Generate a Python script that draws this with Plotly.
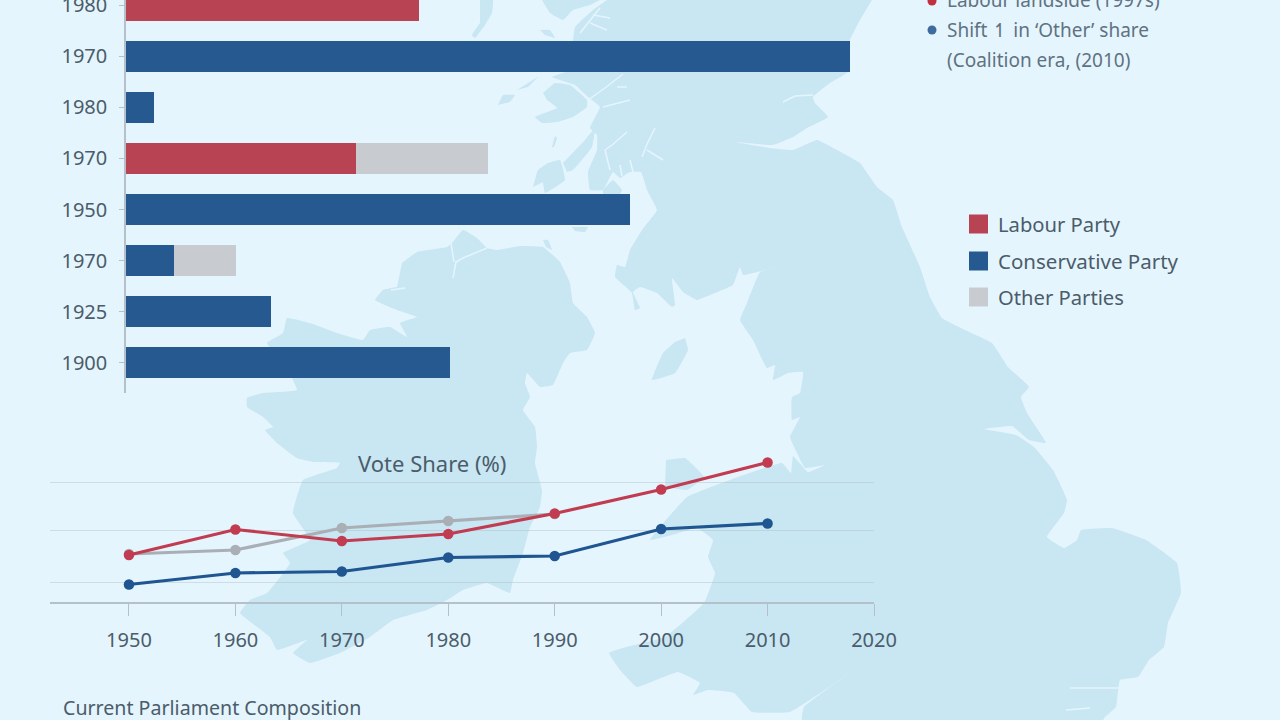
import plotly.graph_objects as go

# Bar panel: rows listed top to bottom, repeated year labels are kept as drawn
row_labels = ["1980", "1970", "1980", "1970", "1950", "1970", "1925", "1900"]
row_pos = [7, 6, 5, 4, 3, 2, 1, 0]
labour_bar = [29.3, 0, 0, 23.0, 0, 0, 0, 0]
conservative_bar = [0, 72.4, 2.8, 0, 50.4, 4.8, 14.5, 32.4]
other_bar = [0, 0, 0, 13.2, 0, 6.2, 0, 0]

# Vote share lines
years = [1950, 1960, 1970, 1980, 1990, 2000, 2010]
labour_share = [25.4, 30.5, 28.2, 29.6, 33.7, 38.5, 43.9]
conservative_share = [19.5, 21.8, 22.1, 24.9, 25.2, 30.6, 31.7]
other_share = [25.6, 26.4, 30.8, 32.2, 33.6]
other_years = [1950, 1960, 1970, 1980, 1990]
year_ticks = [1950, 1960, 1970, 1980, 1990, 2000, 2010, 2020]
grid_ticks = [20, 30.4, 40]

# Legend and notes
legend_names = ["Labour Party", "Conservative Party", "Other Parties"]
note_lines = ["Labour landside (1997s)", "Shift ↿ in ‘Other’ share", "(Coalition era, (2010)"]

RED = "#b84352"
BLUE = "#25598f"
GREY = "#c8ccd0"
LINE_RED = "#c13c50"
LINE_BLUE = "#1f5590"
LINE_GREY = "#a9afb5"
SEA = "#e5f5fd"
LAND = "#c9e6f3"
TEXT = "#4b5c6a"
AXIS = "#b4c1ca"
FONT = "Noto Sans"

# Backdrop landmasses, outlines in the page's pixel space
great_britain = [
    (872, 0), (860, 20), (850, 40), (848, 72), (830, 83), (813, 97), (815, 103), (828, 117),
    (807, 128), (793, 137), (773, 145), (735, 142), (770, 148), (793, 150), (817, 140), (837, 150),
    (860, 163), (877, 187), (893, 200), (902, 227), (920, 267), (930, 297), (942, 318), (965, 330),
    (992, 343), (1008, 367), (1029, 387), (1021, 397), (1027, 413), (1046, 443), (1029, 440),
    (1012, 426), (984, 429), (1016, 435), (1034, 447), (1053, 470), (1067, 500), (1064, 513),
    (1047, 537), (1064, 548), (1077, 540), (1081, 530), (1112, 528), (1146, 540), (1177, 563),
    (1181, 593), (1168, 623), (1164, 647), (1149, 660), (1138, 677), (1120, 680), (1116, 707),
    (1105, 717), (1103, 720), (802, 720), (804, 707), (851, 672), (825, 690), (790, 712), (752, 712),
    (734, 693), (708, 690), (693, 695), (700, 683), (678, 672), (656, 680), (637, 687), (620, 670),
    (609, 653), (626, 647), (665, 637), (704, 603), (715, 573), (708, 557), (713, 540), (697, 528),
    (672, 535), (650, 540), (687, 497), (730, 480), (782, 463), (791, 473), (793, 456), (808, 472),
    (825, 465), (805, 468), (797, 453), (790, 437), (800, 417), (792, 420), (792, 397), (800, 393),
    (803, 372), (788, 373), (773, 380), (775, 365), (767, 368), (753, 340), (740, 320), (747, 303),
    (760, 272), (778, 267), (765, 270), (743, 275), (740, 267), (733, 285), (710, 295), (697, 300),
    (683, 292), (672, 278), (675, 305), (672, 307), (657, 293), (640, 287), (633, 292), (640, 308),
    (635, 310), (632, 293), (627, 288), (615, 277), (617, 265), (625, 267), (630, 250), (642, 230),
    (657, 210), (647, 190), (641, 172), (630, 172), (620, 178), (613, 172), (603, 190), (590, 190),
    (588, 172), (597, 150), (597, 135), (590, 128), (600, 107), (588, 97), (575, 85), (552, 77),
    (570, 70), (573, 41), (575, 27), (593, 10), (607, 0),
]
ireland = [
    (402, 263), (417, 252), (447, 247), (452, 243), (463, 230), (477, 238), (487, 248), (497, 250),
    (520, 246), (543, 247), (560, 262), (570, 283), (573, 303), (587, 317), (595, 333), (587, 350),
    (570, 353), (563, 363), (553, 385), (540, 387), (527, 373), (525, 383), (530, 397), (523, 410),
    (535, 427), (537, 447), (535, 463), (542, 490), (540, 507), (530, 527), (523, 553), (513, 580),
    (510, 593), (487, 583), (463, 590), (447, 600), (427, 610), (393, 620), (370, 637), (340, 653),
    (310, 663), (293, 653), (307, 640), (277, 650), (270, 637), (240, 613), (250, 600), (267, 593),
    (290, 563), (283, 553), (310, 540), (293, 513), (303, 480), (337, 468), (340, 463), (313, 462),
    (297, 458), (277, 443), (265, 430), (273, 427), (263, 417), (247, 407), (247, 398), (263, 393),
    (297, 390), (285, 365), (267, 343), (283, 333), (287, 318), (310, 323), (337, 333), (363, 340),
    (370, 330), (390, 327), (407, 337), (400, 323), (417, 317), (397, 310), (375, 300), (383, 290),
    (397, 287),
]
islands = [
    [(685, 338), (688, 350), (675, 373), (652, 380), (663, 353), (675, 342)],
    [(666, 460), (685, 458), (704, 477), (687, 490), (665, 487)],
    [(533, 187), (538, 170), (548, 163), (560, 160), (565, 180), (545, 193), (543, 182)],
    [(563, 163), (585, 140), (595, 128), (592, 147), (573, 170), (567, 172)],
    [(552, 147), (555, 136), (557, 138), (554, 147)],
    [(543, 93), (555, 83), (570, 85), (587, 100), (587, 107), (573, 117), (557, 122), (542, 123),
     (535, 117), (557, 108), (547, 100)],
    [(498, 105), (503, 95), (515, 95), (510, 102)],
    [(517, 90), (538, 77), (528, 87)],
    [(540, 30), (550, 30), (555, 38), (545, 35)],
    [(480, 3), (480, 0), (493, 0), (492, 13), (485, 25), (475, 38), (472, 35), (480, 23)],
    [(542, 0), (550, 13), (563, 20), (573, 10), (590, 5), (600, 0)],
    [(603, 190), (613, 180), (622, 190), (620, 194), (603, 194)],
    [(572, 227), (588, 227), (585, 232), (575, 231)],
    [(543, 240), (548, 240), (552, 250), (546, 247)],
]
inlets = [
    [(588, 100), (605, 88), (623, 74)],
    [(603, 107), (617, 103), (630, 100)],
    [(617, 87), (627, 87)],
    [(605, 150), (612, 145), (627, 132)],
    [(605, 150), (610, 170)],
    [(642, 157), (648, 142), (655, 128)],
    [(647, 150), (655, 155), (663, 160)],
    [(620, 165), (622, 176)],
    [(630, 160), (633, 172)],
    [(580, 33), (590, 20), (600, 8)],
    [(590, 23), (607, 30)],
    [(593, 15), (610, 18)],
    [(783, 102), (795, 96), (813, 95)],
    [(453, 278), (456, 262), (463, 258), (487, 248)],
    [(451, 243), (454, 262)],
    [(391, 290), (405, 288)],
    [(1066, 710), (1090, 708)],
    [(1070, 688), (1120, 688)],
]


def outline(points):
    return [p[0] for p in points], [p[1] for p in points]


fig = go.Figure()

# Land is drawn on a full-page axis pair so the charts sit above it
for land in [great_britain, ireland] + islands:
    xs, ys = outline(land)
    fig.add_trace(go.Scatter(x=xs, y=ys, mode="lines", fill="toself", fillcolor=LAND,
                             line=dict(width=0, shape="spline", smoothing=0.3),
                             hoverinfo="skip", showlegend=False, xaxis="x", yaxis="y"))
for inlet in inlets:
    xs, ys = outline(inlet)
    fig.add_trace(go.Scatter(x=xs, y=ys, mode="lines", line=dict(color=SEA, width=1.5),
                             hoverinfo="skip", showlegend=False, xaxis="x", yaxis="y"))

# Stacked horizontal bars
for name, vals, color in [(legend_names[0], labour_bar, RED),
                          (legend_names[1], conservative_bar, BLUE),
                          (legend_names[2], other_bar, GREY)]:
    fig.add_trace(go.Bar(y=row_pos, x=vals, name=name, orientation="h", width=0.606,
                         marker=dict(color=color, line=dict(width=0)),
                         showlegend=False, xaxis="x2", yaxis="y2"))

# Vote share lines, grey first so red passes over it
for name, xs, ys, color in [(legend_names[2], other_years, other_share, LINE_GREY),
                            (legend_names[1], years, conservative_share, LINE_BLUE),
                            (legend_names[0], years, labour_share, LINE_RED)]:
    fig.add_trace(go.Scatter(x=xs, y=ys, mode="lines+markers", name=name,
                             line=dict(color=color, width=3.2),
                             marker=dict(color=color, size=10.5),
                             showlegend=False, xaxis="x3", yaxis="y3"))

# Hand-placed legend swatches
fig.add_trace(go.Scatter(x=[978.5, 978.5, 978.5], y=[224, 261, 297], mode="markers",
                         marker=dict(symbol="square", size=19, color=[RED, BLUE, GREY]),
                         hoverinfo="skip", showlegend=False, xaxis="x", yaxis="y"))
# Note bullets
fig.add_trace(go.Scatter(x=[932, 932], y=[1, 30], mode="markers",
                         marker=dict(size=9, color=["#c0303f", "#3f6c9f"]),
                         hoverinfo="skip", showlegend=False, xaxis="x", yaxis="y"))


def label(x, y, text, size, color=TEXT, anchor="left"):
    return dict(x=x, y=y, xref="x", yref="y", text=text, showarrow=False, xanchor=anchor,
                yanchor="middle", font=dict(family=FONT, size=size, color=color))


annotations = [
    label(996, 224, legend_names[0], 20.2),
    label(996, 261, legend_names[1], 20.5),
    label(996, 297, legend_names[2], 20.2),
    label(945, 0, note_lines[0], 19, "#5f7282"),
    label(945, 30, note_lines[1], 19, "#5f7282"),
    label(945, 60, note_lines[2], 19, "#5f7282"),
    label(431.5, 463, "Vote Share (%)", 22, anchor="center"),
    label(61, 707, "Current Parliament Composition", 19.6),
]

fig.update_layout(
    width=1280, height=720, autosize=False,
    margin=dict(l=0, r=0, t=0, b=0),
    paper_bgcolor=SEA, plot_bgcolor="rgba(0,0,0,0)",
    barmode="stack", showlegend=False,
    font=dict(family=FONT, color=TEXT),
    annotations=annotations,
    xaxis=dict(domain=[0, 1], range=[0, 1280], visible=False, fixedrange=True, automargin=False),
    yaxis=dict(domain=[0, 1], range=[720, 0], visible=False, fixedrange=True, automargin=False),
    xaxis2=dict(domain=[126 / 1280, 871 / 1280], range=[0, 72.4 * 745 / 724], visible=False,
                anchor="y2", automargin=False),
    yaxis2=dict(domain=[1 - 393 / 720, 1], range=[-0.587, 7.098], anchor="x2", automargin=False,
                tickmode="array", tickvals=row_pos, ticktext=row_labels,
                ticks="outside", ticklen=5, tickcolor=AXIS, tickwidth=1, ticklabeloverflow="allow",
                showline=True, linecolor=AXIS, linewidth=1.5, showgrid=False, zeroline=False,
                ticklabelstandoff=8, tickfont=dict(family=FONT, size=20, color=TEXT)),
    xaxis3=dict(domain=[50 / 1280, 874 / 1280], range=[1942.58, 2020], anchor="y3", automargin=False,
                tickmode="array", tickvals=year_ticks, ticklabeloverflow="allow",
                ticks="outside", ticklen=12, tickcolor=AXIS, tickwidth=1,
                showline=True, linecolor=AXIS, linewidth=2, showgrid=False, zeroline=False,
                ticklabelstandoff=7, tickfont=dict(family=FONT, size=20, color=TEXT)),
    yaxis3=dict(domain=[(720 - 602) / 720, (720 - 440) / 720], range=[16, 48.4], anchor="x3",
                automargin=False, tickmode="array", tickvals=grid_ticks, showticklabels=False,
                showgrid=True, gridcolor="rgba(175,190,200,0.45)", gridwidth=1,
                showline=False, zeroline=False),
)

fig.write_html("out.html")
